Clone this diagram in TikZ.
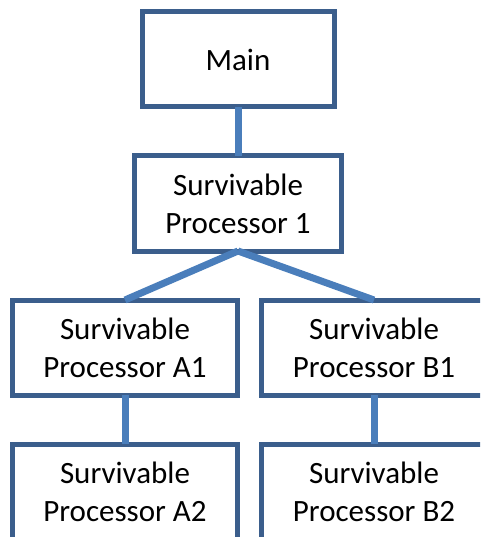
\documentclass[tikz,border=0pt]{standalone}
\usepackage{fontspec}
\setmainfont{Carlito}
\usepackage{tikz}
\usetikzlibrary{positioning}
\definecolor{boxline}{RGB}{59,94,140}
\definecolor{linkline}{RGB}{74,126,187}

\begin{document}
\begin{tikzpicture}[
        node distance=49pt and 24pt,
        box/.style={draw=boxline, line width=5pt, rectangle, minimum width=225pt, minimum height=95pt, align=center, inner sep=0pt, outer sep=0pt, font=\fontsize{31}{38}\selectfont},
        link/.style={draw=linkline, line width=7pt}
    ]
    \useasboundingbox (0,0) rectangle (480pt,-537pt);
    \clip (0,0) rectangle (480pt,-537pt);

    \node[box, minimum width=192pt] (main) at (238pt,-59.5pt) {Main};
    \node[box, minimum width=207pt] (sp1) [below=of main] {Survivable\\Processor 1};
    \node[box] (spa1) [below=of sp1, xshift=-113pt] {Survivable\\Processor A1};
    \node[box] (spb1) [right=of spa1] {Survivable\\Processor B1};
    \node[box] (spa2) [below=of spa1] {Survivable\\Processor A2};
    \node[box] (spb2) [below=of spb1] {Survivable\\Processor B2};

    \draw[link] (main) -- (sp1);
    \draw[link] (sp1.south) -- (spa1.north);
    \draw[link] (sp1.south) -- (spb1.north);
    \draw[link] (spa1) -- (spa2);
    \draw[link] (spb1) -- (spb2);

\end{tikzpicture}
\end{document}
